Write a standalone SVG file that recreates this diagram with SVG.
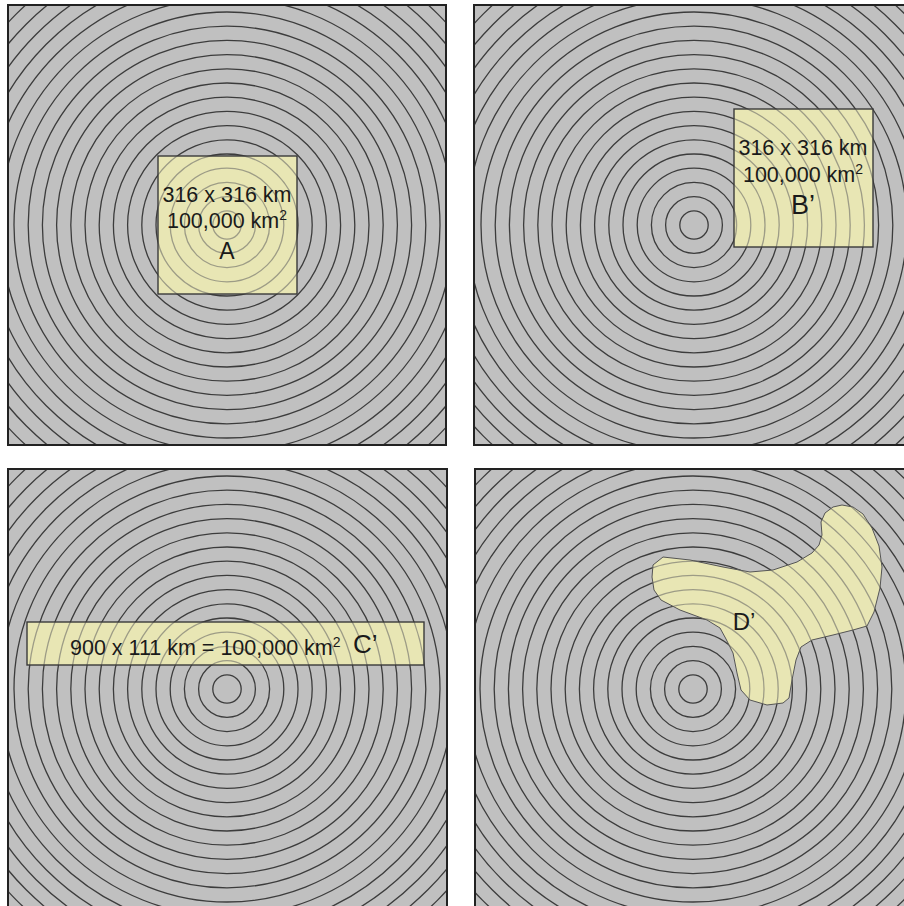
<svg xmlns="http://www.w3.org/2000/svg" xmlns:xlink="http://www.w3.org/1999/xlink" width="904" height="906" viewBox="0 0 904 906">
<style>
.bg{fill:#c0c0c0}
.frame{fill:none;stroke:#222;stroke-width:2}
.rings circle{fill:none;stroke:#3c3c3c;stroke-width:1.3}
.ringsL circle{fill:none;stroke:#9d9c86;stroke-width:1.3}
.zone{fill:#e8e6b4}
.zoneLine{fill:none;stroke:#3a3a3a;stroke-width:1.4}
.dLine{fill:none;stroke:#555;stroke-width:1}
.t{font-family:"Liberation Sans",Arial,sans-serif;fill:#1a1a1a;text-anchor:middle}
.s{text-anchor:start}
</style>
<defs>
<g id="rings" class="rings">
<circle r="14.2"/><circle r="28.4"/><circle r="42.6"/><circle r="56.8"/><circle r="71"/><circle r="85.2"/><circle r="99.4"/><circle r="113.6"/><circle r="127.8"/><circle r="142"/><circle r="156.2"/><circle r="170.4"/><circle r="184.6"/><circle r="198.8"/><circle r="213"/><circle r="227.2"/><circle r="241.4"/><circle r="255.6"/><circle r="269.8"/><circle r="284"/><circle r="298.2"/><circle r="312.4"/><circle r="326.6"/>
</g>
<g id="ringsL" class="ringsL">
<circle r="14.2"/><circle r="28.4"/><circle r="42.6"/><circle r="56.8"/><circle r="71"/><circle r="85.2"/><circle r="99.4"/><circle r="113.6"/><circle r="127.8"/><circle r="142"/><circle r="156.2"/><circle r="170.4"/><circle r="184.6"/><circle r="198.8"/><circle r="213"/><circle r="227.2"/><circle r="241.4"/><circle r="255.6"/><circle r="269.8"/><circle r="284"/><circle r="298.2"/><circle r="312.4"/><circle r="326.6"/>
</g>
<clipPath id="cTL"><rect x="8" y="5" width="438" height="440"/></clipPath>
<clipPath id="cTR"><rect x="474" y="5" width="440" height="440"/></clipPath>
<clipPath id="cBL"><rect x="8" y="469" width="439" height="440"/></clipPath>
<clipPath id="cBR"><rect x="475" y="469" width="440" height="440"/></clipPath>
<path id="dShape" d="M653,565 L663,557 L690,560 L723,567 L750,572 L773,570 L797,562 L812,553 L819,545 L822,535 L821,522 L825,513 L833,507 L842,505 L853,507 L863,514 L872,528 L879,546 L882,567 L880,588 L874,612 L867,626 L853,630 L833,635 L812,640 L801,647 L796,660 L792,680 L789,698 L783,703 L767,705 L750,700 L741,690 L737,673 L733,653 L726,639 L720,628 L707,620 L680,610 L661,600 L654,590 L652,577 Z"/>
<clipPath id="cA"><rect x="158" y="156" width="139" height="138"/></clipPath>
<clipPath id="cB"><rect x="734" y="109" width="139" height="138"/></clipPath>
<clipPath id="cC"><rect x="27" y="622" width="397" height="43"/></clipPath>
<clipPath id="cD"><use xlink:href="#dShape"/></clipPath>
</defs>

<g id="panel-A">
<g clip-path="url(#cTL)">
<rect class="bg" x="8" y="5" width="438" height="440"/>
<use xlink:href="#rings" x="227" y="225"/>
</g>
<rect class="frame" x="8" y="5" width="438" height="440"/>
<g id="zone-A">
<rect class="zone" x="158" y="156" width="139" height="138"/>
<g clip-path="url(#cA)"><use xlink:href="#ringsL" x="227" y="225"/></g>
<rect class="zoneLine" x="158" y="156" width="139" height="138"/>
<text class="t" x="227" y="202" font-size="21.5">316 x 316 km</text>
<text class="t" x="227" y="228" font-size="21.5">100,000 km<tspan font-size="14" dy="-8">2</tspan></text>
<text class="t" x="227" y="259" font-size="23">A</text>
</g>
</g>

<g id="panel-B">
<g clip-path="url(#cTR)">
<rect class="bg" x="474" y="5" width="440" height="440"/>
<use xlink:href="#rings" x="694" y="225"/>
</g>
<rect class="frame" x="474" y="5" width="440" height="440"/>
<g id="zone-B">
<rect class="zone" x="734" y="109" width="139" height="138"/>
<g clip-path="url(#cB)"><use xlink:href="#ringsL" x="694" y="225"/></g>
<rect class="zoneLine" x="734" y="109" width="139" height="138"/>
<text class="t" x="803" y="155" font-size="21.5">316 x 316 km</text>
<text class="t" x="803" y="182" font-size="21.5">100,000 km<tspan font-size="14" dy="-8">2</tspan></text>
<text class="t" x="803" y="214" font-size="27">B’</text>
</g>
</g>

<g id="panel-C">
<g clip-path="url(#cBL)">
<rect class="bg" x="8" y="469" width="439" height="440"/>
<use xlink:href="#rings" x="227" y="689"/>
</g>
<rect class="frame" x="8" y="469" width="439" height="440"/>
<g id="zone-C">
<rect class="zone" x="27" y="622" width="397" height="43"/>
<g clip-path="url(#cC)"><use xlink:href="#ringsL" x="227" y="689"/></g>
<rect class="zoneLine" x="27" y="622" width="397" height="43"/>
<text class="t s" x="70" y="655" font-size="21.5">900 x 111 km = 100,000 km<tspan font-size="14" dy="-8">2</tspan></text>
<text class="t s" x="353" y="653" font-size="26">C’</text>
</g>
</g>

<g id="panel-D">
<g clip-path="url(#cBR)">
<rect class="bg" x="475" y="469" width="440" height="440"/>
<use xlink:href="#rings" x="693" y="689"/>
</g>
<rect class="frame" x="475" y="469" width="440" height="440"/>
<g id="zone-D">
<use xlink:href="#dShape" class="zone"/>
<g clip-path="url(#cD)"><use xlink:href="#ringsL" x="693" y="689"/></g>
<use xlink:href="#dShape" class="dLine"/>
<text class="t" x="744" y="630" font-size="24">D’</text>
</g>
</g>
</svg>
